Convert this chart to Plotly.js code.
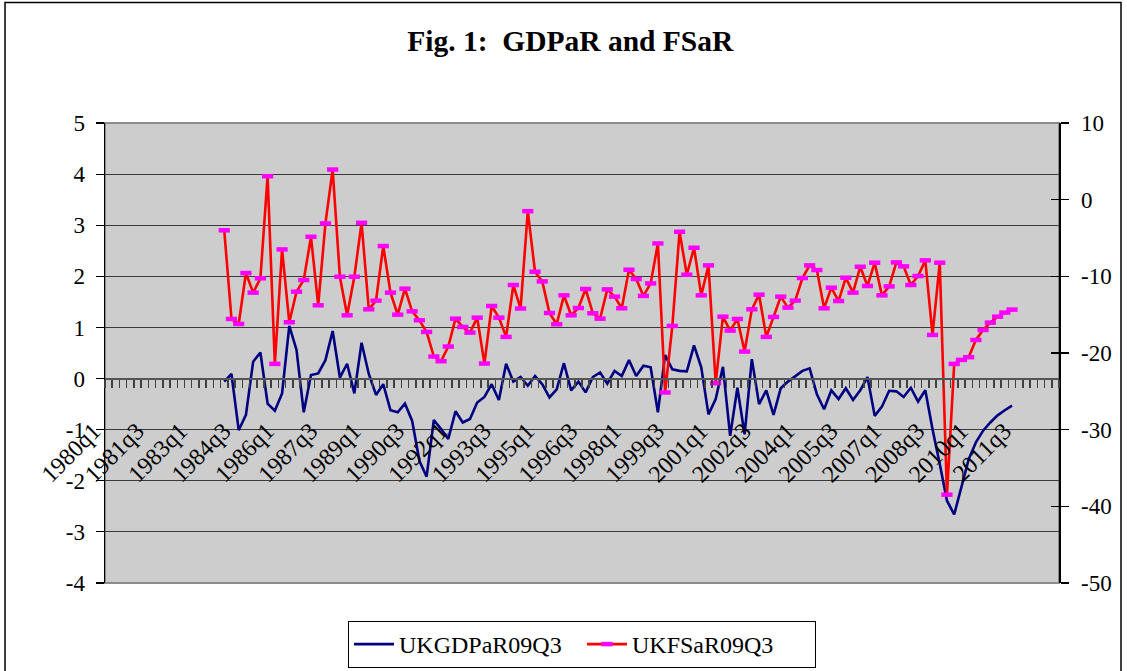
<!DOCTYPE html>
<html>
<head>
<meta charset="utf-8">
<script src="https://cdn.plot.ly/plotly-3.0.1.min.js"></script>
<style>
html,body{margin:0;padding:0;background:#fff;}
#chart{width:1127px;height:671px;}
</style>
</head>
<body>
<div id="chart"></div>
<script>
// Category axis: quarters 1980q1 .. 2012q4
const firstYear = 1980;
const lastYear = 2012;
const quarters = [];
for (let y = firstYear; y <= lastYear; y++) {
  for (let q = 1; q <= 4; q++) quarters.push(y + 'q' + q);
}
// Labelled ticks
const xTickLabels = ['1980q1','1981q3','1983q1','1984q3','1986q1','1987q3','1989q1','1990q3',
  '1992q1','1993q3','1995q1','1996q3','1998q1','1999q3','2001q1','2002q3','2004q1','2005q3',
  '2007q1','2008q3','2010q1','2011q3'];

// Series run from 1984q1 to 2011q2
const seriesStart = '1984q1';
const seriesEnd = '2011q2';

const gdpName = 'UKGDPaR09Q3';
const fsarName = 'UKFSaR09Q3';

const gdpValues = [
  -0.06, 0.09, -1.01, -0.71, 0.33, 0.51, -0.49, -0.63, -0.29, 1.03,
  0.56, -0.66, 0.07, 0.10, 0.36, 0.93, 0.02, 0.29, -0.29, 0.70,
  0.09, -0.32, -0.11, -0.62, -0.66, -0.49, -0.83, -1.61, -1.92, -0.81,
  -0.99, -1.18, -0.64, -0.86, -0.79, -0.47, -0.36, -0.11, -0.42, 0.29,
  -0.06, 0.03, -0.14, 0.05, -0.11, -0.37, -0.21, 0.30, -0.23, -0.06,
  -0.27, 0.03, 0.12, -0.10, 0.15, 0.05, 0.36, 0.05, 0.25, 0.22,
  -0.66, 0.46, 0.18, 0.15, 0.14, 0.65, 0.22, -0.70, -0.40, 0.23,
  -1.12, -0.18, -1.09, 0.38, -0.50, -0.23, -0.71, -0.19, -0.06, 0.05,
  0.15, 0.20, -0.31, -0.60, -0.23, -0.40, -0.19, -0.42, -0.23, 0.03,
  -0.73, -0.55, -0.24, -0.25, -0.36, -0.18, -0.45, -0.23, -0.99, -1.67,
  -2.39, -2.66, -2.10, -1.58, -1.25, -1.02, -0.86, -0.72, -0.62, -0.53
];

const fsarValues = [
  -4.0, -15.56, -16.21, -9.57, -12.13, -10.26, 3.06, -21.42, -6.49, -15.99,
  -12.0, -10.48, -4.84, -13.78, -3.10, 3.93, -10.05, -15.08, -10.05, -3.02,
  -14.3, -13.17, -6.05, -12.13, -15.0, -11.61, -14.56, -15.73, -17.25, -20.46,
  -21.07, -19.16, -15.52, -16.6, -17.34, -15.39, -21.38, -13.87, -15.39, -17.9,
  -11.13, -14.2, -1.5, -9.4, -10.66, -14.78, -16.25, -12.48, -15.08, -14.13,
  -11.65, -14.82, -15.52, -11.7, -12.65, -14.17, -9.14, -10.35, -12.56, -10.92,
  -5.71, -25.15, -16.47, -4.19, -9.79, -6.27, -12.48, -8.57, -23.94, -15.26,
  -17.08, -15.56, -19.81, -14.3, -12.39, -17.9, -15.3, -12.65, -14.08, -13.17,
  -10.22, -8.57, -9.18, -14.17, -11.48, -13.22, -10.18, -12.13, -8.75, -11.26,
  -8.22, -12.48, -11.31, -8.18, -8.7, -11.13, -9.96, -7.92, -17.64, -8.22,
  -38.48, -21.42, -20.9, -20.55, -18.3, -16.99, -16.04, -15.26, -14.73, -14.34
];

const leftTicks = [-4, -3, -2, -1, 0, 1, 2, 3, 4, 5];
const leftTickText = ['-4', '-3', '-2', '-1', '0', '1', '2', '3', '4', '5'];
const rightTicks = [-50, -40, -30, -20, -10, 0, 10];
const rightTickText = ['-50', '-40', '-30', '-20', '-10', '0', '10'];

const titleText = 'Fig. 1:\u00A0 GDPaR and FSaR';

// ---- build ----
const i0 = quarters.indexOf(seriesStart);
const i1 = quarters.indexOf(seriesEnd);
const seriesX = quarters.slice(i0, i1 + 1);
const tickText = quarters.map(q => xTickLabels.includes(q) ? q : '');

const serif = 'Liberation Serif';

const traces = [
  {
    type: 'scatter', mode: 'lines', name: gdpName,
    x: seriesX, y: gdpValues, xaxis: 'x', yaxis: 'y',
    line: {color: '#000080', width: 2.6}
  },
  {
    type: 'scatter', mode: 'lines+markers', name: fsarName,
    x: seriesX, y: fsarValues, xaxis: 'x', yaxis: 'y2',
    line: {color: '#FF0000', width: 2.6},
    marker: {symbol: 'line-ew', size: 8, color: '#FF00FF', line: {color: '#FF00FF', width: 4.5}}
  },
  {
    type: 'scatter', mode: 'lines', x: [], y: [], xaxis: 'x', yaxis: 'y3',
    showlegend: false, hoverinfo: 'skip'
  }
];

const layout = {
  width: 1127, height: 671,
  margin: {l: 105, r: 68, t: 123, b: 88, pad: 0},
  paper_bgcolor: '#FFFFFF',
  plot_bgcolor: '#CDCDCD',
  font: {family: serif, size: 23, color: '#000'},
  showlegend: true,
  title: {
    text: titleText,
    font: {family: serif, size: 29.5, weight: 'bold', color: '#000'},
    x: 0.506, xanchor: 'center', xref: 'container',
    y: 0.94, yanchor: 'middle', yref: 'container'
  },
  xaxis: {
    type: 'category',
    categoryorder: 'array', categoryarray: quarters,
    range: [-0.5, quarters.length - 0.5],
    tickmode: 'array', tickvals: quarters, ticktext: tickText,
    tickson: 'boundaries',
    ticks: 'outside', ticklen: 8, tickwidth: 1.5, tickcolor: '#404040',
    tickangle: -45,
    tickfont: {family: serif, size: 24, color: '#000'},
    ticklabelstandoff: 28, ticklabelshift: -15,
    anchor: 'free', position: 4 / 9,
    showline: true, linecolor: '#555555', linewidth: 2,
    showgrid: false, zeroline: false, automargin: false, fixedrange: true
  },
  yaxis: {
    range: [-4, 5],
    tickmode: 'array', tickvals: leftTicks, ticktext: leftTickText,
    ticks: 'outside', ticklen: 8, tickwidth: 1.2, tickcolor: '#000',
    tickfont: {family: serif, size: 23, color: '#000'},
    ticklabelstandoff: 6,
    showline: true, linecolor: '#000', linewidth: 1.5,
    showgrid: true, gridcolor: '#3a3a3a', gridwidth: 1.2,
    zeroline: false, automargin: false, fixedrange: true
  },
  yaxis2: {
    range: [-50, 10], overlaying: 'y', side: 'right', anchor: 'x',
    tickmode: 'array', tickvals: rightTicks, ticktext: rightTickText,
    ticks: 'outside', ticklen: 8, tickwidth: 1.2, tickcolor: '#000',
    tickfont: {family: serif, size: 23, color: '#000'},
    ticklabelstandoff: 8,
    showline: true, linecolor: '#000', linewidth: 1.5,
    showgrid: false, zeroline: false, automargin: false, fixedrange: true
  },
  yaxis3: {
    range: [-50, 10], overlaying: 'y', side: 'right', anchor: 'x',
    tickmode: 'array', tickvals: rightTicks,
    ticks: 'inside', ticklen: 8, tickwidth: 1.2, tickcolor: '#000',
    showticklabels: false, showline: false, showgrid: false, zeroline: false,
    automargin: false, fixedrange: true
  },
  legend: {
    orientation: 'h', x: 0.5, xanchor: 'center', xref: 'paper',
    y: 0.0745, yanchor: 'top', yref: 'container',
    font: {family: serif, size: 24, color: '#000'},
    bgcolor: '#FFFFFF', bordercolor: '#000', borderwidth: 1,
    itemwidth: 40, tracegroupgap: 0, entrywidth: 178
  },
  shapes: [
    {type: 'rect', xref: 'paper', yref: 'paper', x0: 0, x1: 1, y0: 0, y1: 1,
     line: {color: '#8c8c8c', width: 2}, fillcolor: 'rgba(0,0,0,0)', layer: 'between'},
    {type: 'rect', xref: 'paper', yref: 'paper', x0: -0.1048, x1: 1.065, y0: -0.25, y1: 1.262,
     line: {color: '#000', width: 1.5}, fillcolor: 'rgba(0,0,0,0)', layer: 'below'}
  ],
  hovermode: false
};

Plotly.newPlot('chart', traces, layout, {displayModeBar: false, staticPlot: true});
</script>
</body>
</html>
